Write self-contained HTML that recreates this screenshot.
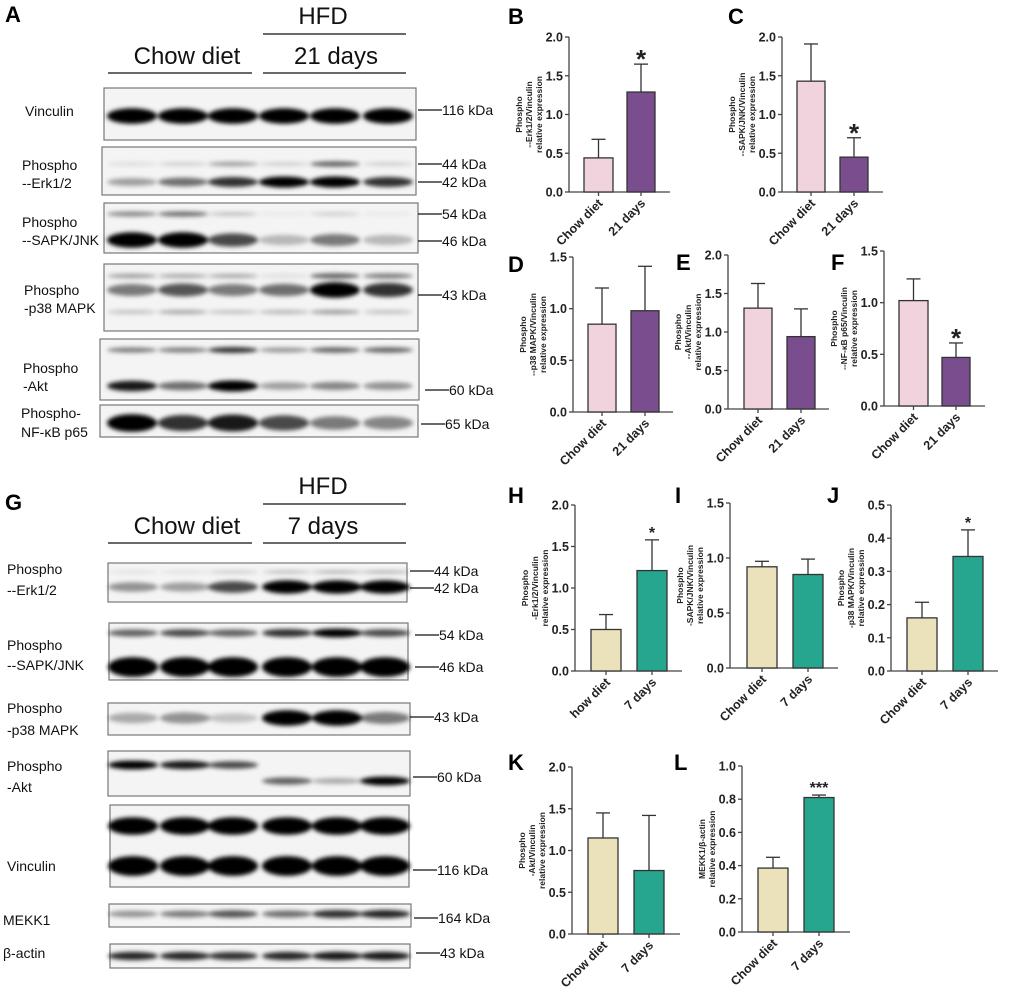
<!DOCTYPE html>
<html><head><meta charset="utf-8">
<style>
html,body{margin:0;padding:0;background:#fff;}
svg{display:block;font-family:"Liberation Sans",Arial,sans-serif;}
</style></head>
<body>
<svg id="fig" width="1020" height="992" viewBox="0 0 1020 992" xmlns="http://www.w3.org/2000/svg">
<defs>
<filter id="blur" x="-20%" y="-100%" width="140%" height="300%"><feGaussianBlur stdDeviation="2.2"/></filter>
</defs>
<g id="blots"></g>
<g id="charts"></g>
</svg>
<script>
// ---- Bar chart data ----
const catsA = ["Chow diet", "21 days"];
const catsG = ["Chow diet", "7 days"];
const catsH = ["how diet", "7 days"];
const valsB = [0.44, 1.29]; const errB = [0.24, 0.36];
const valsC = [1.43, 0.45]; const errC = [0.48, 0.25];
const valsD = [0.85, 0.98]; const errD = [0.35, 0.43];
const valsE = [1.31, 0.94]; const errE = [0.32, 0.36];
const valsF = [1.02, 0.47]; const errF = [0.21, 0.14];
const valsH = [0.50, 1.21]; const errH = [0.18, 0.37];
const valsI = [0.92, 0.85]; const errI = [0.05, 0.14];
const valsJ = [0.16, 0.345]; const errJ = [0.047, 0.08];
const valsK = [1.15, 0.76]; const errK = [0.30, 0.66];
const valsL = [0.385, 0.81]; const errL = [0.065, 0.015];
const ticks20 = [0, 0.5, 1.0, 1.5, 2.0];
const ticks15 = [0, 0.5, 1.0, 1.5];
const ticks05 = [0, 0.1, 0.2, 0.3, 0.4, 0.5];
const ticks10 = [0, 0.2, 0.4, 0.6, 0.8, 1.0];
const sigB = ["", "*"], sigC = ["", "*"], sigD = ["", ""], sigE = ["", ""], sigF = ["", "*"];
const sigH = ["", "*"], sigI = ["", ""], sigJ = ["", "*"], sigK = ["", ""], sigL = ["", "***"];

const NS = "http://www.w3.org/2000/svg";
function mk(tag, attrs, parent, text) {
  const e = document.createElementNS(NS, tag);
  for (const k in attrs) e.setAttribute(k, attrs[k]);
  if (text !== undefined) e.textContent = text;
  parent.appendChild(e);
  return e;
}
const charts = document.getElementById('charts');

function chart(id, letter, lx, ly, ax, y0, yTop, xEnd, bars, cats, vals, errs, ticks, ylab, sig, colors, small) {
  const g = mk('g', {}, charts);
  
  
  const tmax = ticks[ticks.length - 1];
  const ys = v => y0 - (v / tmax) * (y0 - yTop);
  const L = mk('text', {x: lx, y: ly, 'font-size': 22, 'font-weight': 'bold'}, g, letter);
  
  
  const ya = mk('line', {x1: ax, y1: yTop, x2: ax, y2: y0, stroke: '#444', 'stroke-width': 1.3}, g);
  
  
  const xa = mk('line', {x1: ax, y1: y0, x2: xEnd, y2: y0, stroke: '#444', 'stroke-width': 1.3}, g);
  
  
  ticks.forEach(t => {
    const y = ys(t);
    mk('line', {x1: ax - 4, y1: y, x2: ax, y2: y, stroke: '#444', 'stroke-width': 1.3}, g);
    const tl = mk('text', {x: ax - 6, y: y + 4.5, 'font-size': 12.5, 'font-weight': 'bold', 'text-anchor': 'end', fill: '#222'}, g, t.toFixed(1));
    
    
  });
  const cy = (y0 + yTop) / 2;
  const offs = ylab.length === 3 ? [-47, -37, -27] : [-37, -27];
  ylab.forEach((s, i) => {
    const x = ax + offs[i];
    const t = mk('text', {x: x, y: cy, 'font-size': 8.5, 'font-weight': 'bold', 'text-anchor': 'middle', fill: '#222', transform: `rotate(-90 ${x} ${cy})`}, g, s);
    
    
  });
  vals.forEach((v, i) => {
    const [x1, x2] = bars[i];
    const cx = (x1 + x2) / 2;
    const top = ys(v), et = ys(v + errs[i]);
    mk('line', {x1: cx, y1: top, x2: cx, y2: et, stroke: '#333', 'stroke-width': 1.3}, g);
    mk('line', {x1: cx - 7, y1: et, x2: cx + 7, y2: et, stroke: '#333', 'stroke-width': 1.3}, g);
    const r = mk('rect', {x: x1, y: top, width: x2 - x1, height: y0 - top, fill: colors[i], stroke: '#333', 'stroke-width': 1.3}, g);
    
    
    mk('line', {x1: cx, y1: y0, x2: cx, y2: y0 + 4, stroke: '#444', 'stroke-width': 1.3}, g);
    if (sig[i]) {
      const s = mk('text', {x: cx, y: et + (small ? -2 : 4), 'font-size': small ? 16 : 26, 'font-weight': 'bold', 'text-anchor': 'middle', fill: '#222'}, g, sig[i]);
      
      
    }
    const lx2 = cx + 5, ly2 = y0 + 12;
    const xl = mk('text', {x: lx2, y: ly2, 'font-size': 12.5, 'font-weight': 'bold', 'text-anchor': 'end', fill: '#222', transform: `rotate(-45 ${lx2} ${ly2})`}, g, cats[i]);
    
    
  });
}
const P = ['#f1d3dd', '#7a4e8e'], T = ['#ebe2bc', '#26a68e'];
chart('b','B',508,24,569,192,37,670,[[584,613],[627,655]],catsA,valsB,errB,ticks20,['Phospho','--Erk1/2/Vinculin','relative expression'],sigB,P,false);
chart('c','C',728,24,782,192,37,883,[[797,825],[840,868]],catsA,valsC,errC,ticks20,['Phospho','--SAPK/JNK/Vinculin','relative expression'],sigC,P,false);
chart('d','D',508,272,573,412,257,673,[[588,616],[631,659]],catsA,valsD,errD,ticks15,['Phospho','--p38 MAPK/Vinculin','relative expression'],sigD,P,false);
chart('e','E',676,270,728,409,255,829,[[744,772],[787,815]],catsA,valsE,errE,ticks20,['Phospho','--Akt/Vinculin','relative expression'],sigE,P,false);
chart('f','F',831,270,884,406,251,985,[[899,928],[942,970]],catsA,valsF,errF,ticks15,['Phospho','--NF-κB p65/Vinculin','relative expression'],sigF,P,false);
chart('h','H',508,503,575,671,505,682,[[591,621],[637,667]],catsH,valsH,errH,ticks20,['Phospho','-Erk1/2/Vinculin','relative expression'],sigH,T,true);
chart('i','I',675,503,730,668,503,838,[[747,777],[793,823]],catsG,valsI,errI,ticks15,['Phospho','-SAPK/JNK/Vinculin','relative expression'],sigI,T,true);
chart('j','J',827,503,891,671,505,998,[[907,937],[953,983]],catsG,valsJ,errJ,ticks05,['Phospho','-p38 MAPK/Vinculin','relative expression'],sigJ,T,true);
chart('k','K',508,770,572,934,767,680,[[588,618],[634,664]],catsG,valsK,errK,ticks20,['Phospho','-Akt/Vinculin','relative expression'],sigK,T,true);
chart('l','L',674,770,742,932,766,850,[[758,788],[804,834]],catsG,valsL,errL,ticks10,['MEKK1/β-actin','relative expression'],sigL,T,true);

// ---- Blots ----
const blots = document.getElementById('blots');
const lanesA = [132, 183, 233, 284, 335, 388];
const lanesG = [133, 185, 233, 287, 337, 385];
function blot(name, x1, y1, x2, y2, lanes, bands, labels, labY, labX, markers, mx1) {
  const g = mk('g', {}, blots);
  
  
  mk('rect', {x: x1, y: y1, width: x2 - x1, height: y2 - y1, fill: '#f4f4f4', stroke: '#777', 'stroke-width': 1.2}, g);
  const bg = mk('g', {filter: 'url(#blur)'}, g);
  bands.forEach(b => {
    lanes.forEach((cx, i) => {
      const a = b.i[i];
      if (a <= 0) return;
      mk('ellipse', {cx: cx, cy: b.y, rx: 25, ry: b.h * (0.6 + 0.5 * a), fill: '#000', 'fill-opacity': Math.min(1, a)}, bg);
    });
  });
  labels.forEach((s, i) => {
    const t = mk('text', {x: labX, y: labY[i], 'font-size': 14, fill: '#111'}, g, s);
    
    
  });
  markers.forEach(m => {
    mk('line', {x1: mx1, y1: m[0], x2: mx1 + 24, y2: m[0], stroke: '#111', 'stroke-width': 1.3}, g);
    const t = mk('text', {x: mx1 + 24, y: m[0] + 5, 'font-size': 14, fill: '#111'}, g, m[1]);
    
    
  });
}
function header(yOff, right, lblx) {
  const g = mk('g', {}, blots);
  
  
  mk('text', {x: 323, y: yOff + 24, 'font-size': 24, 'text-anchor': 'middle', fill: '#111'}, g, 'HFD');
  mk('line', {x1: 263, y1: yOff + 34, x2: 406, y2: yOff + 34, stroke: '#111', 'stroke-width': 1.3}, g);
  mk('text', {x: 187, y: yOff + 64, 'font-size': 24, 'text-anchor': 'middle', fill: '#111'}, g, 'Chow diet');
  mk('text', {x: lblx, y: yOff + 64, 'font-size': 24, 'text-anchor': 'middle', fill: '#111'}, g, right);
  mk('line', {x1: 108, y1: yOff + 73, x2: 252, y2: yOff + 73, stroke: '#111', 'stroke-width': 1.3}, g);
  mk('line', {x1: 263, y1: yOff + 73, x2: 406, y2: yOff + 73, stroke: '#111', 'stroke-width': 1.3}, g);
}
mk('text', {x: 5, y: 22, 'font-size': 22, 'font-weight': 'bold'}, blots, 'A');
mk('text', {x: 5, y: 510, 'font-size': 22, 'font-weight': 'bold'}, blots, 'G');
header(0, '21 days', 336);
header(470, '7 days', 323);

blot('vinculin-a',104,88,416,140,lanesA,[{y:116,h:7,i:[1,1,1,1,1,1]}],['Vinculin'],[116],25,[[110,'116 kDa']],418);
blot('erk-a',102,147,416,195,lanesA,[{y:164,h:3,i:[0.1,0.15,0.35,0.15,0.6,0.15]},{y:182,h:5,i:[0.35,0.55,0.8,1,1,0.8]}],['Phospho','--Erk1/2'],[170,188],22,[[164,'44 kDa'],[182,'42 kDa']],418);
blot('sapk-a',104,203,418,253,lanesA,[{y:214,h:3,i:[0.45,0.55,0.2,0.05,0.15,0.05]},{y:240,h:7,i:[1,1,0.7,0.25,0.5,0.25]}],['Phospho','--SAPK/JNK'],[227,245],22,[[214,'54 kDa'],[241,'46 kDa']],418);
blot('p38-a',104,264,418,331,lanesA,[{y:276,h:3,i:[0.35,0.3,0.3,0.1,0.6,0.5]},{y:290,h:7,i:[0.5,0.65,0.5,0.55,1,0.8]},{y:312,h:3,i:[0.2,0.3,0.2,0.25,0.35,0.2]}],['Phospho','-p38 MAPK'],[295,313],24,[[295,'43 kDa']],418);
blot('akt-a',100,339,419,400,lanesA,[{y:350,h:3,i:[0.5,0.5,0.8,0.4,0.6,0.6]},{y:386,h:5,i:[0.9,0.55,1,0.35,0.45,0.4]}],['Phospho','-Akt'],[373,391],23,[[390,'60 kDa']],425);
blot('nfkb-a',100,405,418,437,lanesA,[{y:423,h:8,i:[1,0.8,0.9,0.7,0.5,0.45]}],['Phospho-','NF-κB p65'],[418,437],21,[[424,'65 kDa']],421);

blot('erk-g',108,563,407,602,lanesG,[{y:572,h:2,i:[0.1,0.1,0.2,0.25,0.3,0.3]},{y:587,h:6,i:[0.4,0.35,0.7,1,1,1]}],['Phospho','--Erk1/2'],[574,595],7,[[571,'44 kDa'],[588,'42 kDa']],410);
blot('sapk-g',109,623,408,680,lanesG,[{y:633,h:4,i:[0.6,0.7,0.6,0.8,1,0.7]},{y:667,h:9,i:[1,1,1,1,1,1]}],['Phospho','--SAPK/JNK'],[650,670],7,[[635,'54 kDa'],[667,'46 kDa']],415);
blot('p38-g',108,703,410,735,lanesG,[{y:718,h:7,i:[0.3,0.4,0.2,1,1,0.5]}],['Phospho','-p38 MAPK'],[713,735],7,[[717,'43 kDa']],410);
blot('akt-g',108,751,410,796,lanesG,[{y:765,h:4,i:[1,0.9,0.7,0,0,0]},{y:781,h:4,i:[0,0,0,0.6,0.3,1]}],['Phospho','-Akt'],[771,792],7,[[777,'60 kDa']],413);
blot('vinculin-g',110,805,409,887,lanesG,[{y:826,h:8,i:[1,1,1,1,1,1]},{y:866,h:9,i:[1,1,1,1,1,1]}],['Vinculin'],[871],7,[[870,'116 kDa']],413);
blot('mekk1-g',109,904,411,927,lanesG,[{y:914,h:4,i:[0.4,0.5,0.65,0.55,0.8,0.85]}],['MEKK1'],[925],3,[[918,'164 kDa']],414);
blot('actin-g',110,944,410,968,lanesG,[{y:956,h:4,i:[0.85,0.85,0.8,0.85,0.9,0.9]}],['β-actin'],[958],3,[[953,'43 kDa']],416);
</script>
</body></html>
